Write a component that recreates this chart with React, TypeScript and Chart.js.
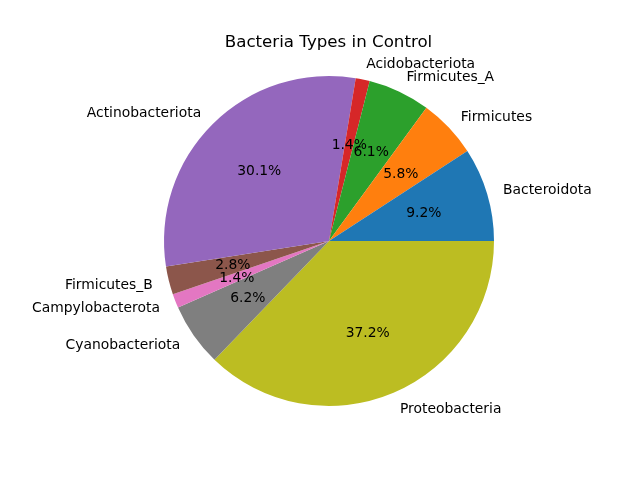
import React, { useEffect, useRef } from "react";
import { Chart, registerables } from "chart.js";

Chart.register(...registerables);

const TITLE = "Bacteria Types in Control";
const categories = [
  "Bacteroidota",
  "Firmicutes",
  "Firmicutes_A",
  "Acidobacteriota",
  "Actinobacteriota",
  "Firmicutes_B",
  "Campylobacterota",
  "Cyanobacteriota",
  "Proteobacteria",
];
const values = [9.17, 5.78, 6.08, 1.38, 30.06, 2.76, 1.38, 6.18, 37.21];
const colors = [
  "#1f77b4",
  "#ff7f0e",
  "#2ca02c",
  "#d62728",
  "#9467bd",
  "#8c564b",
  "#e377c2",
  "#7f7f7f",
  "#bcbd22",
];

const FONT = '"DejaVu Sans", sans-serif';

const labelPlugin = {
  id: "mplLabels",
  afterDraw(chart: any) {
    const ctx = chart.ctx as CanvasRenderingContext2D;
    const meta = chart.getDatasetMeta(0);
    const labels: string[] = chart.data.labels;
    const data: number[] = chart.data.datasets[0].data;
    const total = data.reduce((a, b) => a + b, 0);
    ctx.save();
    ctx.fillStyle = "#000";
    meta.data.forEach((arc: any, i: number) => {
      const p = arc.getProps(["x", "y", "startAngle", "endAngle", "outerRadius"], true);
      const mid = (p.startAngle + p.endAngle) / 2;
      const c = Math.cos(mid);
      const s = Math.sin(mid);
      // outer label
      ctx.font = `13.89px ${FONT}`;
      ctx.textBaseline = "middle";
      ctx.textAlign = c > 0 ? "left" : "right";
      ctx.fillText(labels[i], p.x + c * p.outerRadius * 1.1, p.y + s * p.outerRadius * 1.1 + 1);
      // percent label
      ctx.textAlign = "center";
      const pct = ((data[i] / total) * 100).toFixed(1) + "%";
      ctx.fillText(pct, p.x + c * p.outerRadius * 0.6, p.y + s * p.outerRadius * 0.6 + 1);
    });
    // title
    ctx.font = `16.67px ${FONT}`;
    ctx.textAlign = "center";
    ctx.textBaseline = "alphabetic";
    ctx.fillText(TITLE, 328.5, 47);
    ctx.restore();
  },
};

export default function App() {
  const ref = useRef<HTMLCanvasElement | null>(null);
  useEffect(() => {
    if (!ref.current) return;
    const chart = new Chart(ref.current, {
      type: "pie",
      data: {
        labels: [...categories].reverse(),
        datasets: [
          {
            data: [...values].reverse(),
            backgroundColor: [...colors].reverse(),
            borderWidth: 0,
          },
        ],
      },
      options: {
        responsive: false,
        animation: false,
        rotation: 90,
        layout: { padding: { left: 164, right: 146, top: 76, bottom: 74 } },
        plugins: {
          legend: { display: false },
          tooltip: { enabled: false },
          title: { display: false },
        },
      },
      plugins: [labelPlugin],
    });
    return () => chart.destroy();
  }, []);
  return (
    <div style={{ position: "fixed", left: 0, top: 0, width: 640, height: 480, background: "#fff" }}>
      <canvas ref={ref} width={640} height={480} />
    </div>
  );
}
